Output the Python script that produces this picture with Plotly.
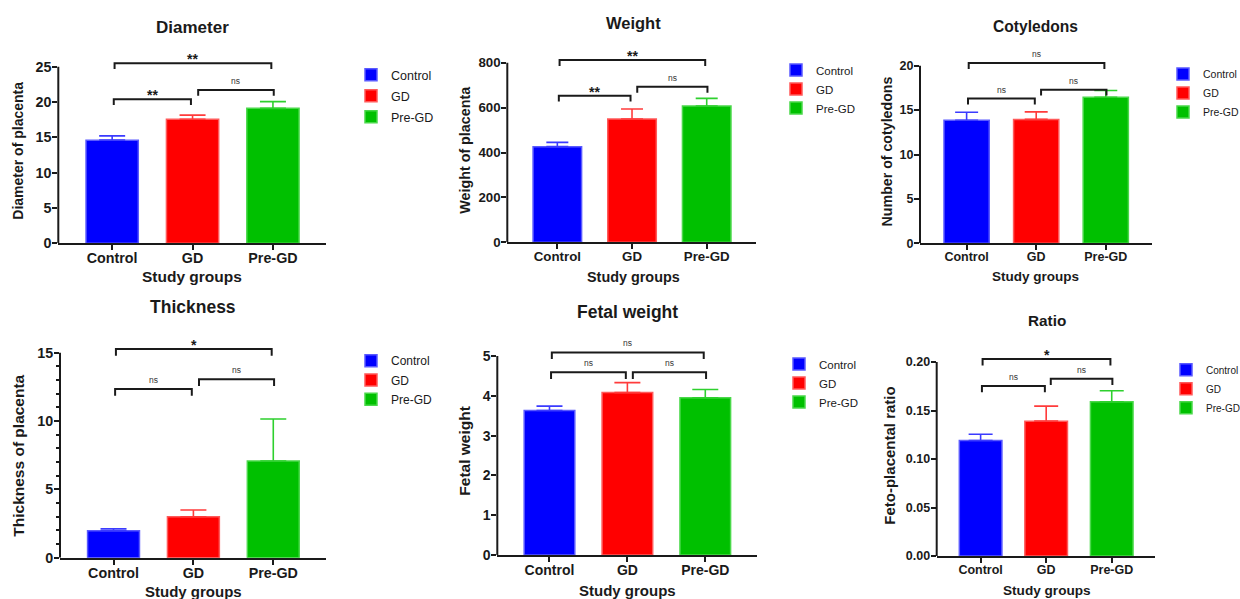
import plotly.graph_objects as go

W, H = 1240, 599

# ---------------- data ----------------
groups = ["Control", "GD", "Pre-GD"]

titles = ["Diameter", "Weight", "Cotyledons", "Thickness", "Fetal weight", "Ratio"]
y_labels = ["Diameter of placenta", "Weight of placenta", "Number of cotyledons",
            "Thickness of placenta", "Fetal weight", "Feto-placental ratio"]
x_label = "Study groups"

diameter_mean = [14.6, 17.55, 19.1]
diameter_sem = [0.6, 0.6, 0.95]
weight_mean = [426, 549, 607]
weight_sem = [19, 45, 34]
cotyledons_mean = [13.85, 13.95, 16.45]
cotyledons_sem = [0.9, 0.85, 0.75]
thickness_mean = [1.98, 3.0, 7.07]
thickness_sem = [0.14, 0.49, 3.08]
fetal_mean = [3.63, 4.08, 3.95]
fetal_sem = [0.11, 0.25, 0.21]
ratio_mean = [0.119, 0.139, 0.159]
ratio_sem = [0.0065, 0.0155, 0.0113]

diameter_ticks = [0, 5, 10, 15, 20, 25]
weight_ticks = [0, 200, 400, 600, 800]
cotyledons_ticks = [0, 5, 10, 15, 20]
thickness_ticks = [0, 5, 10, 15]
thickness_minor_ticks = [1, 2, 3, 4, 6, 7, 8, 9, 11, 12, 13, 14]
fetal_ticks = [0, 1, 2, 3, 4, 5]
ratio_ticks = [0.0, 0.05, 0.10, 0.15, 0.20]
ratio_tick_text = ["0.00", "0.05", "0.10", "0.15", "0.20"]

# significance brackets: (group i, group j, bracket level, label)
diameter_sig = [(0, 2, 25.5, "**"), (0, 1, 20.4, "**"), (1, 2, 21.7, "ns")]
weight_sig = [(0, 2, 812, "**"), (0, 1, 653, "**"), (1, 2, 693, "ns")]
cotyledons_sig = [(0, 2, 20.3, "ns"), (0, 1, 16.3, "ns"), (1, 2, 17.3, "ns")]
thickness_sig = [(0, 2, 15.27, "*"), (0, 1, 12.34, "ns"), (1, 2, 13.05, "ns")]
fetal_sig = [(0, 2, 5.09, "ns"), (0, 1, 4.59, "ns"), (1, 2, 4.59, "ns")]
ratio_sig = [(0, 2, 0.203, "*"), (0, 1, 0.1753, "ns"), (1, 2, 0.1828, "ns")]

# ---------------- style / layout ----------------
FONT = "Liberation Sans, Arial, sans-serif"
INK = "#1a1a1a"
bar_fill = ["#0000FF", "#FF0000", "#00C000"]
bar_edge = ["#5a5aff", "#ff5a5a", "#4ad84a"]
err_col = ["#3b3bff", "#ff3b3b", "#2ed02e"]

# leg = (legend left px, first item centre px, item spacing px, font size)
panels = [
    dict(mean=diameter_mean, sem=diameter_sem, ticks=diameter_ticks, ttext=None, minor=None, sig=diameter_sig,
         box=(58.3, 326, 243.3, 66.7), title=(192, 27, 17), ytit=(18, 150.7, 14), xtit=(192, 276.7, 15.5),
         tick=14.3, leg=(351, 74.7, 21, 12.5), cap=13),
    dict(mean=weight_mean, sem=weight_sem, ticks=weight_ticks, ttext=None, minor=None, sig=weight_sig,
         box=(507.3, 756, 242.3, 62.7), title=(633, 23, 16.5), ytit=(465, 149.7, 14.3), xtit=(633, 276.7, 14.4),
         tick=13.3, leg=(776, 70, 16.5, 11.5), cap=11),
    dict(mean=cotyledons_mean, sem=cotyledons_sem, ticks=cotyledons_ticks, ttext=None, minor=None, sig=cotyledons_sig,
         box=(920, 1151.7, 243.3, 65.7), title=(1035.7, 26.7, 15.6), ytit=(886.7, 151.7, 14.2), xtit=(1035.7, 276.7, 13.5),
         tick=12.5, leg=(1163, 74, 16.2, 10.5), cap=11.5),
    dict(mean=thickness_mean, sem=thickness_sem, ticks=thickness_ticks, ttext=None, minor=thickness_minor_ticks, sig=thickness_sig,
         box=(60, 326, 557.7, 352.7), title=(193, 306.7, 17.5), ytit=(19, 455.7, 15.5), xtit=(193, 591, 15),
         tick=14.3, leg=(351, 360.7, 19.3, 12), cap=13),
    dict(mean=fetal_mean, sem=fetal_sem, ticks=fetal_ticks, ttext=None, minor=None, sig=fetal_sig,
         box=(497.3, 756.7, 555, 356), title=(627.3, 311.7, 17.5), ytit=(465, 450.7, 15.5), xtit=(627.3, 590.5, 15),
         tick=14, leg=(779, 364, 18, 11.5), cap=13),
    dict(mean=ratio_mean, sem=ratio_sem, ticks=ratio_ticks, ttext=ratio_tick_text, minor=None, sig=ratio_sig,
         box=(936.7, 1155, 556, 362), title=(1046.7, 320, 15.3), ytit=(890, 455.7, 15), xtit=(1046.7, 590.5, 13.6),
         tick=12.5, leg=(1166, 369.7, 18.2, 10), cap=12),
]

X_RANGE = [-0.67, 2.66]
BAR_W = 0.65
HEAD = 1.06
DROP = 0.033

fig = go.Figure()
shapes = []
annotations = []
layout = dict(
    width=W, height=H, margin=dict(l=0, r=0, t=0, b=0, autoexpand=False),
    paper_bgcolor="white", plot_bgcolor="white",
    barmode="overlay", font=dict(family=FONT, color=INK),
)


def px(xp, yp):
    return xp / W, 1 - yp / H


for k, p in enumerate(panels, start=1):
    sfx = "" if k == 1 else str(k)
    xa, ya = "x" + sfx, "y" + sfx
    leg_name = "legend" + sfx
    left, right, y0, ytop = p["box"]
    top_tick = p["ticks"][-1]
    ppu = (y0 - ytop) / top_tick
    rng_top = top_tick * HEAD
    dom_top_px = y0 - ppu * rng_top

    for g, grp in enumerate(groups):
        fig.add_trace(go.Bar(
            x=[grp], y=[p["mean"][g]], name=grp, width=BAR_W,
            marker=dict(color=bar_fill[g], line=dict(color=bar_edge[g], width=1.5)),
            error_y=dict(type="data", symmetric=False, array=[p["sem"][g]], arrayminus=[0],
                         color=err_col[g], thickness=1.6, width=p["cap"]),
            xaxis=xa, yaxis=ya, legend=leg_name, legendgroup=f"{k}-{grp}",
        ))

    layout["xaxis" + sfx] = dict(
        domain=[left / W, right / W], range=X_RANGE, type="category", automargin=False,
        showline=True, linecolor=INK, linewidth=2, showgrid=False, zeroline=False,
        ticks="outside", ticklen=5, tickwidth=2, tickcolor=INK, ticklabelstandoff=-4,
        tickfont=dict(size=p["tick"], family=FONT, color=INK, weight="bold"),
        anchor=ya, fixedrange=True,
    )
    yax = dict(
        domain=[1 - y0 / H, 1 - dom_top_px / H], range=[0, rng_top], automargin=False,
        showline=False, showgrid=False, zeroline=False,
        tickmode="array", tickvals=p["ticks"],
        ticks="outside", ticklen=5, tickwidth=2, tickcolor=INK, ticklabelstandoff=-2,
        tickfont=dict(size=p["tick"], family=FONT, color=INK, weight="bold"),
        anchor=xa, fixedrange=True,
    )
    if p["ttext"]:
        yax["ticktext"] = p["ttext"]
    if p["minor"]:
        yax["minor"] = dict(tickmode="array", tickvals=p["minor"], ticks="outside",
                            ticklen=3, tickwidth=1.5, tickcolor=INK)
    layout["yaxis" + sfx] = yax

    # y axis line up to the top tick
    shapes.append(dict(type="line", xref=xa + " domain", yref=ya, x0=0, x1=0, y0=0, y1=top_tick,
                       line=dict(color=INK, width=2)))

    # significance brackets
    drop = DROP * top_tick
    for (i, j, lvl, lab) in p["sig"]:
        xi = i + (0.03 if j == 2 and i == 0 else (0.07 if i == 1 else 0.02))
        xj = j - (0.02 if j == 2 and i == 0 else (0.02 if j == 1 else -0.01))
        path = f"M{xi},{lvl - drop} L{xi},{lvl} L{xj},{lvl} L{xj},{lvl - drop}"
        shapes.append(dict(type="path", xref=xa, yref=ya, path=path,
                           line=dict(color=INK, width=2)))
        star = lab != "ns"
        annotations.append(dict(
            x=(xi + xj) / 2, y=lvl, xref=xa, yref=ya, text=f"<b>{lab}</b>" if star else lab,
            showarrow=False, xanchor="center", yanchor="middle",
            yshift=4 if star else 9,
            font=dict(size=14 if star else 8.5, family=FONT, color=INK if star else "#333")))

    # titles
    tx, ty, ts = p["title"]
    ax_, ay_ = px(tx, ty)
    annotations.append(dict(x=ax_, y=ay_, xref="paper", yref="paper", text=f"<b>{titles[k-1]}</b>",
                            showarrow=False, xanchor="center", yanchor="middle",
                            font=dict(size=ts, family=FONT, color=INK)))
    tx, ty, ts = p["ytit"]
    ax_, ay_ = px(tx, ty)
    annotations.append(dict(x=ax_, y=ay_, xref="paper", yref="paper", text=f"<b>{y_labels[k-1]}</b>",
                            showarrow=False, xanchor="center", yanchor="middle", textangle=-90,
                            font=dict(size=ts, family=FONT, color=INK)))
    tx, ty, ts = p["xtit"]
    ax_, ay_ = px(tx, ty)
    annotations.append(dict(x=ax_, y=ay_, xref="paper", yref="paper", text=f"<b>{x_label}</b>",
                            showarrow=False, xanchor="center", yanchor="middle",
                            font=dict(size=ts, family=FONT, color=INK)))

    # legend
    lx, ly, lgap, lfs = p["leg"]
    item_h = max(lfs * 1.3, 16) + 3
    layout[leg_name] = dict(
        x=lx / W, y=1 - (ly - 14.5) / H, xanchor="left", yanchor="top",
        bgcolor="rgba(0,0,0,0)", borderwidth=0,
        font=dict(size=lfs, family=FONT, color=INK),
        tracegroupgap=max(lgap - item_h, 0), itemclick=False, itemdoubleclick=False,
    )

layout["shapes"] = shapes
layout["annotations"] = annotations
layout["showlegend"] = True
fig.update_layout(**layout)

fig.write_html("out.html", config=dict(displayModeBar=False),
               post_script="document.body.style.margin='0';document.body.style.overflow='hidden';")
